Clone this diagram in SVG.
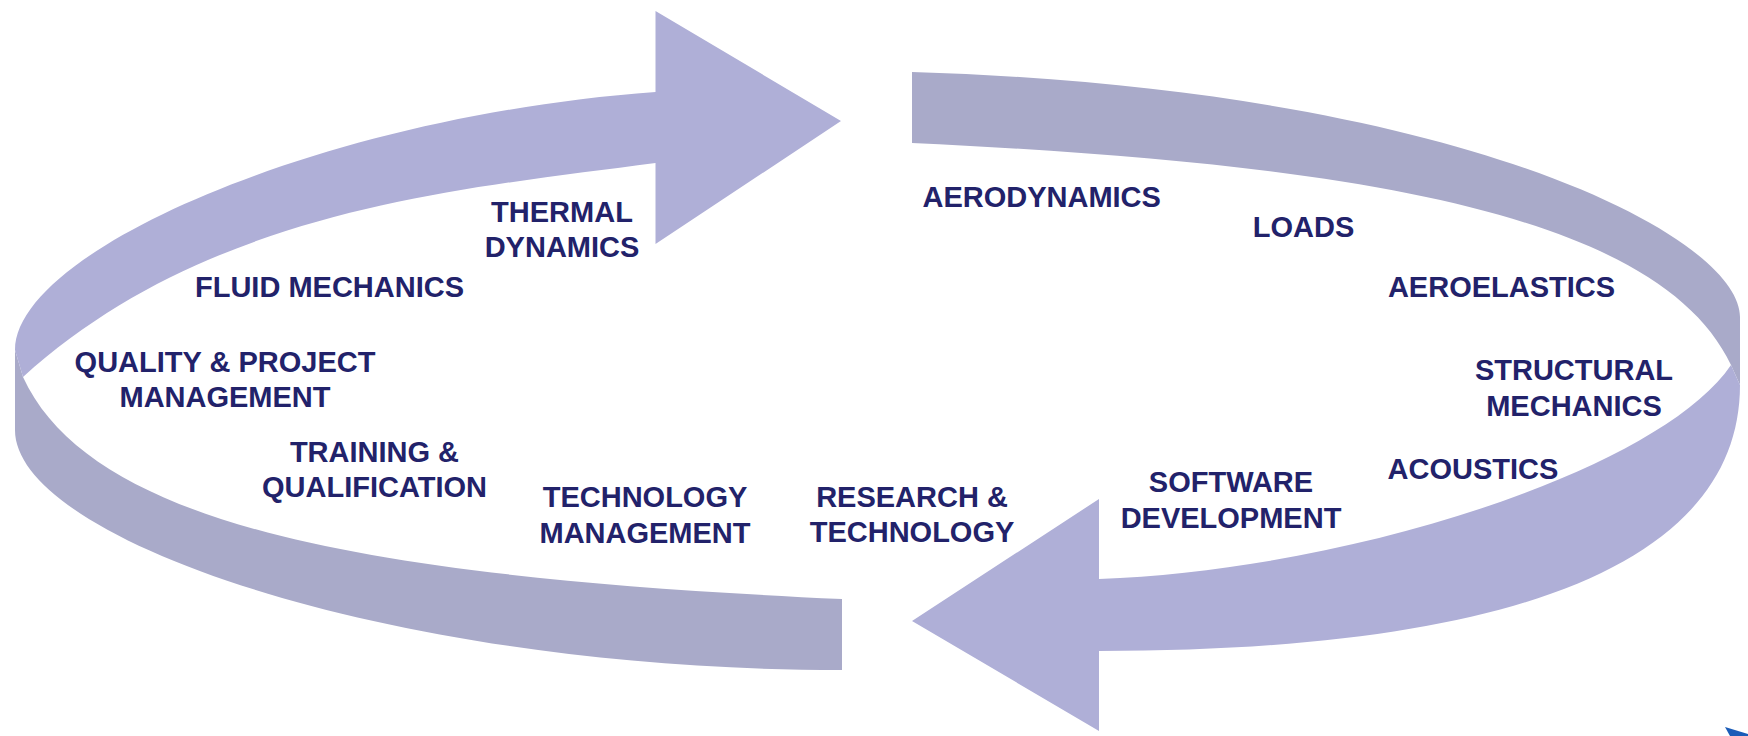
<svg xmlns="http://www.w3.org/2000/svg" width="1748" height="736" viewBox="0 0 1748 736">
<style>
.light{fill:#AFAFD7}
.grey{fill:#A9AAC9}
.lbl{font-family:"Liberation Sans",Arial,sans-serif;font-weight:bold;font-size:29px;fill:#22226A;text-anchor:middle}
</style>
<rect width="1748" height="736" fill="#FFFFFF"/>
<g id="connectors">
<path id="band-bottom-left" class="grey" d="M842,670 C392,670 15,540 15,430 L15,350 L23,377 C94,532 392,578 842,599 Z"/>
<path id="band-top-right" class="grey" d="M912,72 C1462,88.5 1740,237 1740,317 L1740,385 L1731,365 C1660,215 1362,164 912,143 Z"/>
<path id="arrow-top" class="light" d="M655.5,92 L655.5,11 L841,121 L655.5,244 L655.5,163 C455.5,189.6 208,209.5 23,377 L15,350 C15,250 325,116 655.5,92 Z"/>
<path id="arrow-bottom" class="light" d="M1099,651 L1099,731 L912,621 L1099,499 L1099,579 C1350,570 1660,470 1731,365 L1740,385 C1740,560 1520,651 1099,651 Z"/>
</g>
<g id="thermal-dynamics"><text class="lbl" x="562" y="222">THERMAL</text><text class="lbl" x="562" y="257">DYNAMICS</text></g>
<g id="fluid-mechanics"><text class="lbl" x="329.5" y="297">FLUID MECHANICS</text></g>
<g id="quality-project"><text class="lbl" x="225" y="372">QUALITY &amp; PROJECT</text><text class="lbl" x="225" y="407">MANAGEMENT</text></g>
<g id="training-qualification"><text class="lbl" x="374.5" y="462">TRAINING &amp;</text><text class="lbl" x="374.5" y="497">QUALIFICATION</text></g>
<g id="technology-management"><text class="lbl" x="645" y="507">TECHNOLOGY</text><text class="lbl" x="645" y="543">MANAGEMENT</text></g>
<g id="research-technology"><text class="lbl" x="912" y="507">RESEARCH &amp;</text><text class="lbl" x="912" y="542">TECHNOLOGY</text></g>
<g id="software-development"><text class="lbl" x="1231" y="492">SOFTWARE</text><text class="lbl" x="1231" y="528">DEVELOPMENT</text></g>
<g id="acoustics"><text class="lbl" x="1473" y="479">ACOUSTICS</text></g>
<g id="structural-mechanics"><text class="lbl" x="1574" y="380">STRUCTURAL</text><text class="lbl" x="1574" y="416">MECHANICS</text></g>
<g id="aeroelastics"><text class="lbl" x="1501.5" y="297">AEROELASTICS</text></g>
<g id="loads"><text class="lbl" x="1303.5" y="237">LOADS</text></g>
<g id="aerodynamics"><text class="lbl" x="1041.7" y="207">AERODYNAMICS</text></g>
<polygon points="1725,727 1748,734 1748,736 1730,736" fill="#1A5CB8"/>
</svg>
